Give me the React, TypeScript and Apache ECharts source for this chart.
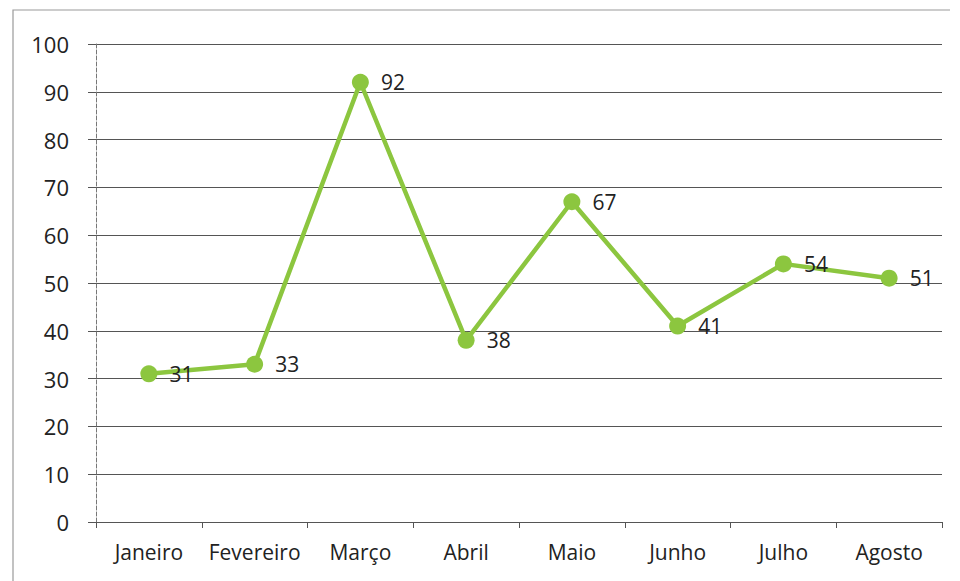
import React, { useEffect, useRef } from "react";
import * as echarts from "echarts";

const months = ["Janeiro", "Fevereiro", "Março", "Abril", "Maio", "Junho", "Julho", "Agosto"];
const values = [31, 33, 92, 38, 67, 41, 54, 51];

export default function App() {
  const ref = useRef<HTMLDivElement>(null);
  useEffect(() => {
    if (!ref.current) return;
    const chart = echarts.init(ref.current, undefined, { renderer: "svg" });
    const font = "'Open Sans', 'Noto Sans', sans-serif";
    chart.setOption({
      animation: false,
      backgroundColor: "#ffffff",
      textStyle: { fontFamily: font },
      graphic: [
        {
          type: "polyline",
          shape: { points: [[13, 600], [13, 10], [950, 10]] },
          style: { stroke: "#9a9a9a", lineWidth: 1.2, fill: "none" },
          silent: true,
        },
      ],
      grid: { left: 96, right: 18, top: 44, bottom: 59, containLabel: false },
      xAxis: {
        type: "category",
        data: months,
        boundaryGap: true,
        axisLine: { show: true, lineStyle: { color: "#555", width: 1.2 } },
        axisTick: { show: true, interval: 0, length: 6, lineStyle: { color: "#555" } },
        axisLabel: { interval: 0, color: "#222", fontSize: 21, margin: 19, fontFamily: font },
      },
      yAxis: {
        type: "value",
        min: 0,
        max: 100,
        interval: 10,
        axisLine: { show: true, lineStyle: { color: "#777", width: 1, type: "dashed" } },
        axisTick: { show: true, length: 8, lineStyle: { color: "#555" } },
        axisLabel: { color: "#222", fontSize: 22, margin: 27, fontFamily: font },
        splitLine: { show: true, lineStyle: { color: "#555", width: 1.2 } },
      },
      series: [
        {
          type: "line",
          data: values,
          lineStyle: { color: "#8cc63f", width: 4.5 },
          itemStyle: { color: "#8cc63f" },
          symbol: "circle",
          symbolSize: 17,
          label: {
            show: true,
            position: "right",
            distance: 12,
            color: "#222",
            fontSize: 21,
            fontFamily: font,
          },
        },
      ],
    });
    return () => chart.dispose();
  }, []);
  return (
    <div
      ref={ref}
      style={{ position: "fixed", left: 0, top: 0, width: 960, height: 581, background: "#fff" }}
    />
  );
}
